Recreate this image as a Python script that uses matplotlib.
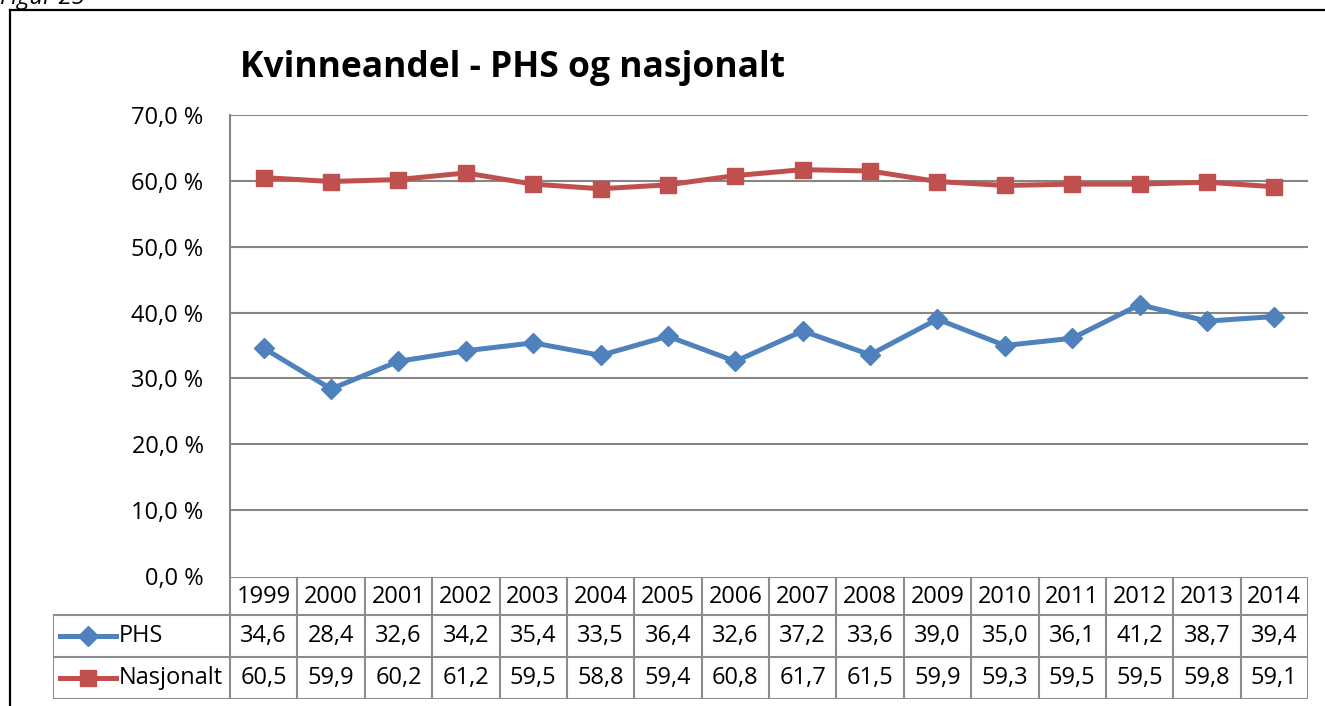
import matplotlib.pyplot as plt
import matplotlib.lines as mlines
import numpy as np

years = ["1999", "2000", "2001", "2002", "2003", "2004", "2005", "2006",
         "2007", "2008", "2009", "2010", "2011", "2012", "2013", "2014"]
phs = [34.6, 28.4, 32.6, 34.2, 35.4, 33.5, 36.4, 32.6,
       37.2, 33.6, 39.0, 35.0, 36.1, 41.2, 38.7, 39.4]
nasjonalt = [60.5, 59.9, 60.2, 61.2, 59.5, 58.8, 59.4, 60.8,
             61.7, 61.5, 59.9, 59.3, 59.5, 59.5, 59.8, 59.1]
series_names = ["PHS", "Nasjonalt"]
y_ticks = [0, 10, 20, 30, 40, 50, 60, 70]

BLUE = "#4F81BD"
RED = "#C0504D"
GRID = "#868686"
FONT = "Open Sans"

W, H = 1325, 706
fig = plt.figure(figsize=(W / 100, H / 100), dpi=100)
plt.rcParams['font.family'] = [FONT, 'DejaVu Sans']


def fx(px):
    return px / W


def fy(py):
    return 1 - py / H


# outer chart border (cut at right/bottom)
fig.add_artist(mlines.Line2D([fx(10), fx(10)], [fy(10), fy(H + 5)], color="black", lw=1.6))
fig.add_artist(mlines.Line2D([fx(10), fx(W + 5)], [fy(10), fy(10)], color="black", lw=1.6))
fig.text(fx(0), fy(4), "Figur 25", fontsize=17, style="italic", va="baseline", ha="left")

# plot area
L, R, T, B = 230, 1308, 115, 576
ax = fig.add_axes([fx(L), fy(B), fx(R) - fx(L), fy(T) - fy(B)])
x = np.arange(len(years))
ax.set_xlim(-0.5, len(years) - 0.5)
ax.set_ylim(0, 70)
ax.set_yticks(y_ticks)
ax.set_yticklabels([f"{v:.1f} %".replace(".", ",") for v in y_ticks], fontsize=17)
ax.tick_params(axis="y", length=0, pad=19)
ax.set_xticks([])
for s in ["top", "right", "bottom"]:
    ax.spines[s].set_visible(False)
ax.spines["left"].set_color(GRID)
ax.spines["left"].set_linewidth(1.5)
for v in y_ticks[1:]:
    ax.axhline(v, color=GRID, lw=1.5, zorder=1)

ax.plot(x, phs, color=BLUE, lw=3.6, marker="D", markersize=10, zorder=3)
ax.plot(x, nasjonalt, color=RED, lw=3.6, marker="s", markersize=11, zorder=3)
ax.set_title("Kvinneandel - PHS og nasjonalt", fontsize=25.5, fontweight="bold",
             loc="left", x=0.009, y=1.0, pad=27)

# data table
TL, TT, TB = 53, 577, 699
col_w = (R - L) / len(years)
tax = fig.add_axes([fx(TL), fy(TB), fx(R) - fx(TL), fy(TT) - fy(TB)])
x0 = -0.5 - (L - TL) / col_w
tax.set_xlim(x0, len(years) - 0.5)
tax.set_ylim(TB, TT)
tax.axis("off")
rows = [TT, 615, 657, TB]
lc = "#8C8C8C"
tax.plot([-0.5, len(years) - 0.5], [rows[0]] * 2, color=lc, lw=1.5)
for r in rows[1:]:
    tax.plot([x0, len(years) - 0.5], [r, r], color=lc, lw=1.5)
tax.plot([x0, x0], [rows[1], rows[3]], color=lc, lw=1.5)
for i in range(len(years) + 1):
    tax.plot([i - 0.5, i - 0.5], [rows[0], rows[3]], color=lc, lw=1.5)

for i, yr in enumerate(years):
    tax.text(i, (rows[0] + rows[1]) / 2 + 1, yr, ha="center", va="center", fontsize=17)
for r, (vals, name, col, mk, ms) in enumerate(
        [(phs, series_names[0], BLUE, "D", 10), (nasjonalt, series_names[1], RED, "s", 11)]):
    yc = (rows[r + 1] + rows[r + 2]) / 2
    for i, v in enumerate(vals):
        tax.text(i, yc, f"{v:.1f}".replace(".", ","), ha="center", va="center", fontsize=17)
    kx = [x0 + 7 / col_w, x0 + 63 / col_w]
    tax.plot(kx, [yc, yc], color=col, lw=3.6)
    tax.plot([np.mean(kx)], [yc], color=col, marker=mk, markersize=ms)
    tax.text(x0 + 66 / col_w, yc, name, ha="left", va="center", fontsize=17)

fig.savefig("out.png", dpi=100)
